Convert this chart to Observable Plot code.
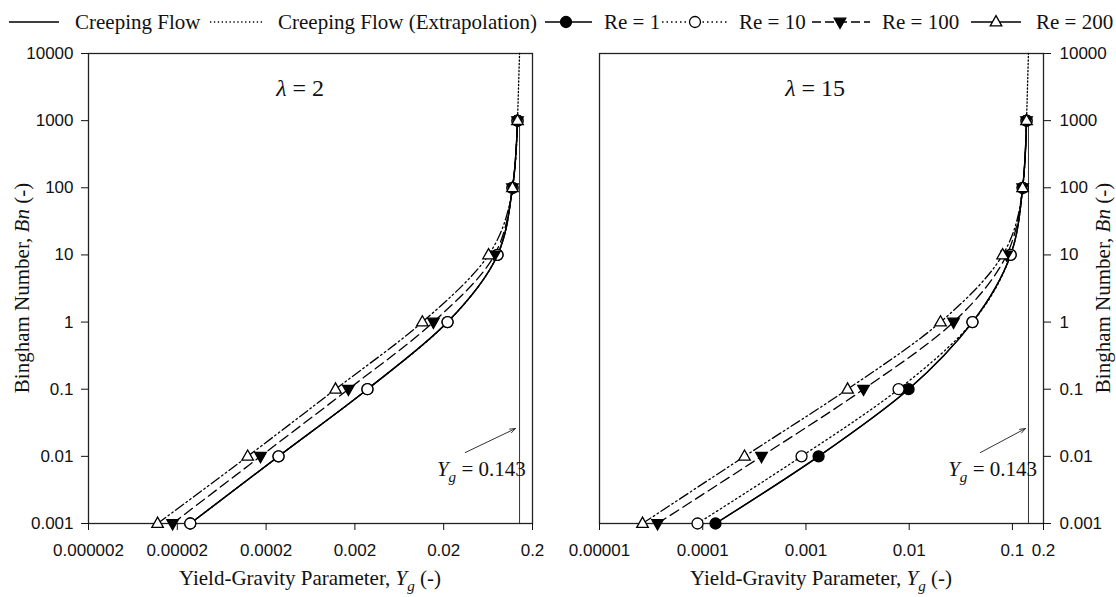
<!DOCTYPE html>
<html><head><meta charset="utf-8">
<script src="https://cdn.jsdelivr.net/npm/d3@7"></script>
<script src="https://cdn.jsdelivr.net/npm/@observablehq/plot@0.6"></script>
<style>
body{margin:0;background:#fff;}
#wrap{position:relative;width:1116px;height:597px;overflow:hidden;background:#fff;}
#wrap svg{position:absolute;top:0;}
</style></head><body><div id="wrap"></div>
<script>
// ---------- data ----------
const bnLevels = [0.001, 0.01, 0.1, 1, 10, 100, 1000];
const yTickValues = [0.001, 0.01, 0.1, 1, 10, 100, 1000, 10000];
const yTickLabels = ["0.001", "0.01", "0.1", "1", "10", "100", "1000", "10000"];
const xTickValuesL = [2e-6, 2e-5, 2e-4, 2e-3, 2e-2, 0.2];
const xTickLabelsL = ["0.000002", "0.00002", "0.0002", "0.002", "0.02", "0.2"];
const xTickValuesR = [1e-5, 1e-4, 1e-3, 1e-2, 0.1, 0.2];
const xTickLabelsR = ["0.00001", "0.0001", "0.001", "0.01", "0.1", "0.2"];
const seriesNames = ["Re = 1", "Re = 10", "Re = 100", "Re = 200"];

// lambda = 2 (Yg at each Bn level)
const lam2Creeping = [2.8e-5, 2.76e-4, 2.77e-3, 2.21e-2, 0.0807, 0.119, 0.1356];
const lam2Re1   = [2.8e-5, 2.76e-4, 2.77e-3, 2.21e-2, 0.0807, 0.119, 0.1356];
const lam2Re10  = [2.8e-5, 2.76e-4, 2.77e-3, 2.21e-2, 0.0807, 0.119, 0.1356];
const lam2Re100 = [1.77e-5, 1.73e-4, 1.69e-3, 1.53e-2, 0.0747, 0.119, 0.1356];
const lam2Re200 = [1.2e-5, 1.24e-4, 1.21e-3, 1.15e-2, 0.064, 0.119, 0.1356];
// lambda = 15
const lam15Creeping = [1.33e-4, 1.325e-3, 9.86e-3, 4.1e-2, 0.0961, 0.1256, 0.137];
const lam15Re1   = [1.33e-4, 1.325e-3, 9.86e-3, 4.1e-2, 0.0961, 0.1256, 0.137];
const lam15Re10  = [8.9e-5, 9.06e-4, 7.89e-3, 4.1e-2, 0.0961, 0.1256, 0.137];
const lam15Re100 = [3.65e-5, 3.71e-4, 3.61e-3, 2.69e-2, 0.0879, 0.1256, 0.137];
const lam15Re200 = [2.61e-5, 2.54e-4, 2.53e-3, 2.01e-2, 0.0804, 0.1256, 0.137];

const asymptote = 0.143;
const extrapBn = [1000, 10000];
const lam2Extrap = [0.1356, 0.143];
const lam15Extrap = [0.137, 0.143];

const legendLabels = ["Creeping Flow", "Creeping Flow (Extrapolation)", "Re = 1", "Re = 10", "Re = 100", "Re = 200"];
const lambdaLabels = ["2", "15"];
const asymLabel = " = 0.143";

// annotation anchor points (data coordinates)
const lam2Notes = {lambda: [4.9e-4, 2300], yg: [0.0170, 0.005], arrow: [0.035, 0.0114, 0.129, 0.026]};
const lam15Notes = {lambda: [1.24e-3, 2300], yg: [0.0241, 0.005], arrow: [0.049, 0.0114, 0.134, 0.026]};

// ---------- styles ----------
const SERIF = "'Liberation Serif','Times New Roman',serif";
const SANS = "'Liberation Sans',Arial,sans-serif";
const triUp = {draw(ctx, size) {const r = Math.sqrt(size / Math.PI); ctx.moveTo(0, -r * 1.15); ctx.lineTo(r * 1.05, r * 0.7); ctx.lineTo(-r * 1.05, r * 0.7); ctx.closePath();}};
const triDown = {draw(ctx, size) {const r = Math.sqrt(size / Math.PI); ctx.moveTo(0, r * 1.15); ctx.lineTo(r * 1.05, -r * 0.7); ctx.lineTo(-r * 1.05, -r * 0.7); ctx.closePath();}};
const sty = {
  "Re = 1":   {dash: null, symbol: "circle", fill: "black", r: 5.5},
  "Re = 10":  {dash: "1.5,3", symbol: "circle", fill: "white", r: 5.5},
  "Re = 100": {dash: "10,5", symbol: triDown, fill: "black", r: 5.5},
  "Re = 200": {dash: "10,3,1.6,3,1.6,3", symbol: triUp, fill: "white", r: 5.5}
};

const rows = (ys, xs = bnLevels) => xs.map((b, i) => ({bn: b, yg: ys[i]}));

function richText(sel, x, y, parts, size, anchor = "start", rotate = 0) {
  const t = sel.append("text").attr("font-family", SERIF).attr("font-size", size)
    .attr("fill", "#111").attr("text-anchor", anchor);
  if (rotate) t.attr("transform", `translate(${x},${y}) rotate(${rotate})`);
  else t.attr("x", x).attr("y", y);
  let shifted = false;
  parts.forEach(p => {
    const ts = t.append("tspan").text(p.t);
    if (p.i) ts.attr("font-style", "italic");
    if (p.sub) { ts.attr("font-size", size * 0.72).attr("dy", size * 0.3); shifted = true; }
    else if (shifted) { ts.attr("dy", -size * 0.3); shifted = false; }
  });
  return t;
}

function makePanel(p) {
  const marks = [
    Plot.ruleX([asymptote], {y1: 0.001, y2: 1000, stroke: "#333", strokeWidth: 1}),
    Plot.frame({stroke: "#222", strokeWidth: 1.3}),
    Plot.axisX({ticks: p.xt, tickFormat: d => p.xl[p.xt.indexOf(d)], tickSize: 7, tickPadding: 13, fontSize: 17, label: null}),
    Plot.axisY({anchor: p.yAnchor, ticks: yTickValues, tickFormat: d => yTickLabels[yTickValues.indexOf(d)], tickSize: 7, tickPadding: p.yAnchor === "left" ? 8 : 9, fontSize: 17, label: null}),
    Plot.line(rows(p.extrap, extrapBn), {x: "yg", y: "bn", stroke: "black", strokeWidth: 1.3, strokeDasharray: "1.3,2.2"}),
    Plot.line(rows(p.creep), {x: "yg", y: "bn", stroke: "black", strokeWidth: 1.4, curve: "monotone-y"})
  ];
  seriesNames.forEach((n, k) => {
    const s = sty[n];
    marks.push(Plot.line(rows(p.series[k]), {x: "yg", y: "bn", stroke: "black", strokeWidth: 1.3, strokeDasharray: s.dash || undefined, curve: "monotone-y"}));
  });
  seriesNames.forEach((n, k) => {
    const s = sty[n];
    marks.push(Plot.dot(rows(p.series[k]), {x: "yg", y: "bn", r: s.r, symbol: s.symbol, fill: s.fill, stroke: "black", strokeWidth: 1.3}));
  });
  const a = p.notes.arrow;
  marks.push(Plot.arrow([{x1: a[0], y1: a[1], x2: a[2], y2: a[3]}], {x1: "x1", y1: "y1", x2: "x2", y2: "y2", stroke: "#333", strokeWidth: 1, headLength: 9, headAngle: 40}));
  const plot = Plot.plot({
    width: p.width, height: 597,
    marginLeft: p.ml, marginRight: p.mr, marginTop: 53, marginBottom: 74,
    x: {type: "log", domain: p.xDomain},
    y: {type: "log", domain: [0.001, 10000]},
    style: {fontFamily: SANS, fontSize: "17px", color: "#111", background: "transparent", overflow: "visible"},
    marks
  });
  const sx = plot.scale("x"), sy = plot.scale("y");
  const svg = d3.select(plot);
  richText(svg, sx.apply(p.notes.lambda[0]), sy.apply(p.notes.lambda[1]), [{t: "λ", i: 1}, {t: " = " + p.lambda}], 24, "middle");
  richText(svg, sx.apply(p.notes.yg[0]), sy.apply(p.notes.yg[1]), [{t: "Y", i: 1}, {t: "g", i: 1, sub: 1}, {t: asymLabel}], 21, "start");
  const cx = (p.ml + p.width - p.mr) / 2;
  richText(svg, cx, 585, [{t: "Yield-Gravity Parameter, "}, {t: "Y", i: 1}, {t: "g", i: 1, sub: 1}, {t: " (-)"}], 21, "middle");
  richText(svg, p.yTitleX, 288, [{t: "Bingham Number, "}, {t: "Bn", i: 1}, {t: " (-)"}], 21, "middle", -90);
  return plot;
}

const wrap = document.getElementById("wrap");
const left = makePanel({width: 560, ml: 88, mr: 28, xDomain: [2e-6, 0.2], xt: xTickValuesL, xl: xTickLabelsL, yAnchor: "left",
  series: [lam2Re1, lam2Re10, lam2Re100, lam2Re200], creep: lam2Creeping, extrap: lam2Extrap, lambda: lambdaLabels[0], notes: lam2Notes, yTitleX: 29});
left.style.left = "0px";
wrap.appendChild(left);
const right = makePanel({width: 556, ml: 39, mr: 73, xDomain: [1e-5, 0.2], xt: xTickValuesR, xl: xTickLabelsR, yAnchor: "right",
  series: [lam15Re1, lam15Re10, lam15Re100, lam15Re200], creep: lam15Creeping, extrap: lam15Extrap, lambda: lambdaLabels[1], notes: lam15Notes, yTitleX: 550});
right.style.left = "560px";
wrap.appendChild(right);

// ---------- legend ----------
const leg = d3.select(wrap).append("svg").attr("width", 1116).attr("height", 45).style("left", "0px");
const legItems = [
  {x0: 9, x1: 59, tx: 75, dash: null},
  {x0: 210, x1: 262, tx: 278, dash: "1.3,2.6"},
  {x0: 545, x1: 592, mx: 566, tx: 604, key: "Re = 1", dash: null},
  {x0: 662, x1: 729, mx: 695, tx: 739, key: "Re = 10", dash: "1.5,3"},
  {x0: 812, x1: 870, mx: 840, tx: 882, key: "Re = 100", dash: "9,4"},
  {x0: 971, x1: 1021, mx: 996, tx: 1036, key: "Re = 200", dash: null}
];
const legY = 22;
legItems.forEach((it, i) => {
  const s = it.key ? sty[it.key] : null;
  leg.append("line").attr("x1", it.x0).attr("x2", it.x1).attr("y1", legY).attr("y2", legY)
    .attr("stroke", "black").attr("stroke-width", 1.3).attr("stroke-dasharray", it.dash);
  if (s) {
    const sym = typeof s.symbol === "string" ? d3.symbolCircle : s.symbol;
    leg.append("path").attr("d", d3.symbol(sym, s.r * s.r * Math.PI)()).attr("transform", `translate(${it.mx},${legY})`)
      .attr("fill", s.fill).attr("stroke", "black").attr("stroke-width", 1.3);
  }
  leg.append("text").attr("x", it.tx).attr("y", legY + 7).attr("font-family", SERIF).attr("font-size", 21).attr("fill", "#111").text(legendLabels[i]);
});
</script></body></html>
